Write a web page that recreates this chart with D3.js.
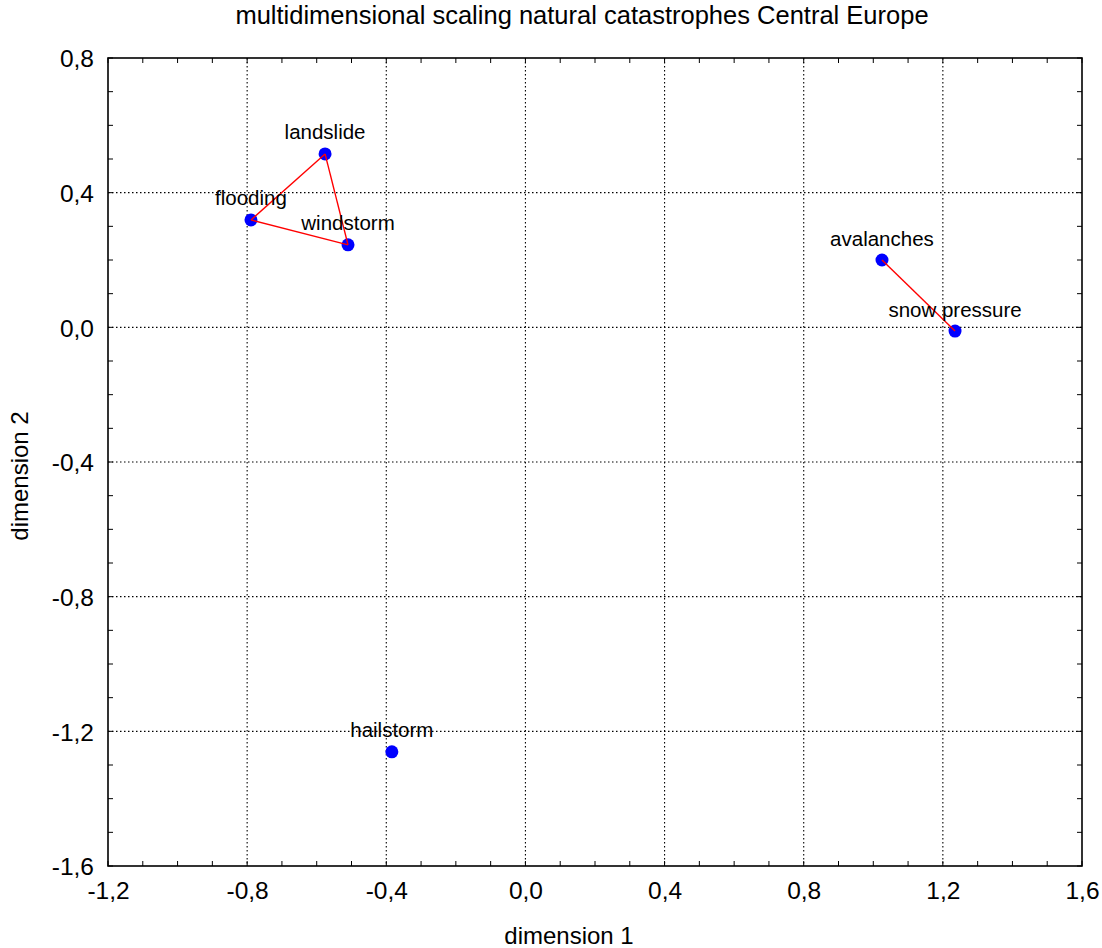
<!DOCTYPE html>
<html><head><meta charset="utf-8">
<script src="https://cdn.jsdelivr.net/npm/d3@7"></script>
<style>body{margin:0;background:#fff;font-family:"Liberation Sans",Arial,sans-serif;} text{font-family:"Liberation Sans",Arial,sans-serif;fill:#000;}</style>
</head><body>
<svg id="c" width="1102" height="948"></svg>
<script>
const labels = ["landslide","flooding","windstorm","avalanches","snow pressure","hailstorm"];
const dim1 = [-0.576,-0.789,-0.510,1.025,1.235,-0.384];
const dim2 = [0.515,0.319,0.245,0.200,-0.011,-1.261];
const links = [[0,1],[1,2],[2,0],[3,4]];
const xTicks = [-1.2,-0.8,-0.4,0.0,0.4,0.8,1.2,1.6];
const yTicks = [0.8,0.4,0.0,-0.4,-0.8,-1.2,-1.6];

const svg = d3.select("#c");
const L=108,R=1082,T=58,B=866;
const x = d3.scaleLinear().domain([-1.2,1.6]).range([L,R]);
const y = d3.scaleLinear().domain([-1.6,0.8]).range([B,T]);
const fmt = v => d3.format(".1f")(v).replace(".",",").replace("\u2212","-");

svg.append("text").attr("x",582).attr("y",24).attr("text-anchor","middle")
  .attr("font-size",25.5).text("multidimensional scaling natural catastrophes Central Europe");

// grid
const g = svg.append("g");
xTicks.slice(1,-1).forEach(v=>g.append("line").attr("x1",x(v)).attr("x2",x(v)).attr("y1",T).attr("y2",B)
  .attr("stroke","#000").attr("stroke-dasharray","1.5,2.5").attr("stroke-width",1.1));
yTicks.slice(1,-1).forEach(v=>g.append("line").attr("y1",y(v)).attr("y2",y(v)).attr("x1",L).attr("x2",R)
  .attr("stroke","#000").attr("stroke-dasharray","1.5,2.5").attr("stroke-width",1.1));

const axB = d3.axisBottom(x).tickValues(xTicks).tickFormat(fmt).tickSize(0).tickPadding(0);
const gb = svg.append("g").attr("transform",`translate(0,${B})`).call(axB);
gb.select(".domain").remove();
gb.selectAll("text").attr("font-size",24.5).attr("dy",null).attr("y",33).attr("font-family","Liberation Sans, Arial, sans-serif").attr("fill","#000");
const axL = d3.axisLeft(y).tickValues(yTicks).tickFormat(fmt).tickSize(0).tickPadding(14);
const gl = svg.append("g").attr("transform",`translate(${L},0)`).call(axL);
gl.select(".domain").remove();
gl.selectAll("text").attr("font-size",24.5).attr("dy","0.36em").attr("font-family","Liberation Sans, Arial, sans-serif").attr("fill","#000");

// minor ticks all four sides
const xm = d3.range(-12,17).map(i=>i/10), ym = d3.range(-16,9).map(i=>i/10);
const tk=5;
xm.forEach(v=>{
  g.append("line").attr("x1",x(v)).attr("x2",x(v)).attr("y1",B).attr("y2",B-tk).attr("stroke","#000");
  g.append("line").attr("x1",x(v)).attr("x2",x(v)).attr("y1",T).attr("y2",T+tk).attr("stroke","#000");
});
ym.forEach(v=>{
  g.append("line").attr("y1",y(v)).attr("y2",y(v)).attr("x1",L).attr("x2",L+tk).attr("stroke","#000");
  g.append("line").attr("y1",y(v)).attr("y2",y(v)).attr("x1",R).attr("x2",R-tk).attr("stroke","#000");
});
svg.append("rect").attr("x",L).attr("y",T).attr("width",R-L).attr("height",B-T)
  .attr("fill","none").attr("stroke","#000").attr("stroke-width",1.6);

svg.append("text").attr("x",569).attr("y",944).attr("text-anchor","middle").attr("font-size",24).text("dimension 1");
svg.append("text").attr("transform",`translate(28,476) rotate(-90)`).attr("text-anchor","middle").attr("font-size",24).text("dimension 2");

const idx = d3.range(labels.length);
svg.selectAll(".pt").data(idx).enter().append("circle")
  .attr("cx",i=>x(dim1[i])).attr("cy",i=>y(dim2[i])).attr("r",6.5).attr("fill","#0000ff");
svg.selectAll(".lk").data(links).enter().append("line")
  .attr("x1",d=>x(dim1[d[0]])).attr("y1",d=>y(dim2[d[0]]))
  .attr("x2",d=>x(dim1[d[1]])).attr("y2",d=>y(dim2[d[1]]))
  .attr("stroke","#ff0000").attr("stroke-width",1.4);
svg.selectAll(".lb").data(idx).enter().append("text")
  .attr("x",i=>x(dim1[i])).attr("y",i=>y(dim2[i])-14.5).attr("text-anchor","middle")
  .attr("font-size",20.5).text(i=>labels[i]);
</script>
</body></html>
